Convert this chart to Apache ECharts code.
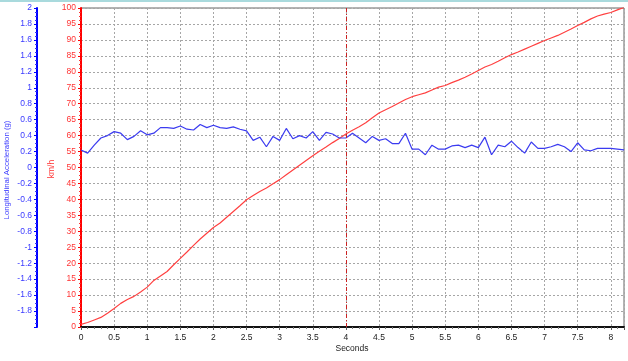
<!DOCTYPE html>
<html><head><meta charset="utf-8">
<script src="https://cdn.jsdelivr.net/npm/echarts@6/dist/echarts.min.js"></script>
<style>html,body{margin:0;padding:0;background:#fff}#c{width:628px;height:361px}</style>
</head><body><div id="c"></div>
<script>
const seconds = [0,0.1,0.2,0.3,0.4,0.5,0.6,0.7,0.8,0.9,1,1.1,1.2,1.3,1.4,1.5,1.6,1.7,1.8,1.9,2,2.1,2.2,2.3,2.4,2.5,2.6,2.7,2.8,2.9,3,3.1,3.2,3.3,3.4,3.5,3.6,3.7,3.8,3.9,4,4.1,4.2,4.3,4.4,4.5,4.6,4.7,4.8,4.9,5,5.1,5.2,5.3,5.4,5.5,5.6,5.7,5.8,5.9,6,6.1,6.2,6.3,6.4,6.5,6.6,6.7,6.8,6.9,7,7.1,7.2,7.3,7.4,7.5,7.6,7.7,7.8,7.9,8,8.1,8.2];
const speedKmh = [0.8,1.4,2.2,3.0,4.3,5.8,7.4,8.6,9.6,11.0,12.5,14.6,16.0,17.4,19.5,21.5,23.5,25.6,27.6,29.4,31.2,32.6,34.4,36.2,38.0,39.9,41.2,42.5,43.6,44.9,46.2,47.7,49.2,50.7,52.2,53.7,55.1,56.4,57.8,59.1,60.5,61.7,62.8,64.0,65.6,67.1,68.1,69.1,70.2,71.3,72.2,72.8,73.4,74.3,75.2,75.7,76.6,77.4,78.3,79.3,80.4,81.5,82.3,83.3,84.4,85.4,86.2,87.1,88.0,88.9,89.8,90.6,91.4,92.4,93.4,94.5,95.5,96.6,97.5,98.1,98.6,99.4,100.2];
const accelG = [0.22,0.18,0.28,0.37,0.40,0.45,0.43,0.35,0.39,0.46,0.41,0.43,0.50,0.50,0.49,0.52,0.48,0.47,0.54,0.50,0.53,0.50,0.49,0.51,0.48,0.46,0.34,0.38,0.26,0.39,0.34,0.49,0.36,0.40,0.37,0.45,0.34,0.44,0.42,0.37,0.37,0.43,0.37,0.31,0.39,0.34,0.36,0.30,0.30,0.43,0.23,0.23,0.16,0.28,0.23,0.23,0.27,0.28,0.25,0.28,0.25,0.38,0.16,0.28,0.26,0.33,0.25,0.18,0.32,0.24,0.24,0.26,0.29,0.26,0.20,0.31,0.22,0.21,0.24,0.24,0.24,0.23,0.22];
const markerSecond = 4;
const xTitle = 'Seconds';
const speedTitle = 'km/h';
const accelTitle = 'Longitudinal Acceleration (g)';

const font = 'Liberation Sans';
const chart = echarts.init(document.getElementById('c'), null, {renderer: 'canvas'});
const grid = {show: true, left: 81, right: 4, top: 8, bottom: 34, borderColor: '#666', borderWidth: 1,
  containLabel: false, outerBoundsMode: 'none'};
const splitDash = {show: true, lineStyle: {color: '#a6a6a6', type: [2, 2], width: 1}};
const titleStyle = (txt, color, size) => ({text: txt, fill: color, font: size + 'px "Liberation Sans"', align: 'center', verticalAlign: 'middle'});
chart.setOption({
  animation: false,
  backgroundColor: '#fff',
  graphic: [
    {type: 'rect', left: 0, top: 0, shape: {width: 628, height: 2}, style: {fill: '#a9dadd'}},
    {type: 'text', x: 352, y: 349, style: titleStyle(xTitle, '#222', 8.5)},
    {type: 'text', x: 52, y: 169, rotation: Math.PI / 2, style: titleStyle(speedTitle, '#ff3333', 8.5)},
    {type: 'text', x: 7, y: 170, rotation: Math.PI / 2, style: titleStyle(accelTitle, '#3a3aff', 7.8)}
  ],
  grid: grid,
  xAxis: {
    type: 'value', min: 0, max: 8.2, interval: 0.5,
    axisLine: {lineStyle: {color: '#111', width: 2}},
    axisTick: {show: true, length: 3, lineStyle: {color: '#555'}},
    minorTick: {show: true, splitNumber: 5, length: 2, lineStyle: {color: '#777'}},
    axisLabel: {color: '#222', fontSize: 8.5, fontFamily: font, margin: 6, showMaxLabel: false},
    splitLine: splitDash
  },
  yAxis: [{
    type: 'value', min: 0, max: 100, interval: 5, position: 'left',
    axisLine: {show: true, lineStyle: {color: '#ff0000', width: 2}},
    axisTick: {show: true, length: 3, lineStyle: {color: '#ff0000'}},
    minorTick: {show: true, splitNumber: 4, length: 2, lineStyle: {color: '#ff3333'}},
    axisLabel: {color: '#ff3333', fontSize: 8.5, fontFamily: font, margin: 5},
    splitLine: splitDash
  }, {
    type: 'value', min: -2, max: 2, interval: 0.2, position: 'left', offset: 44,
    axisLine: {show: true, lineStyle: {color: '#0000ff', width: 2}},
    axisTick: {show: true, length: 3, lineStyle: {color: '#0000ff'}},
    minorTick: {show: true, splitNumber: 4, length: 2, lineStyle: {color: '#3333ff'}},
    axisLabel: {color: '#3a3aff', fontSize: 8.5, fontFamily: font, margin: 5, showMinLabel: false,
      formatter: v => String(Math.round(v * 10) / 10)},
    splitLine: {show: false}
  }],
  series: [{
    type: 'line', yAxisIndex: 0, showSymbol: false, symbol: 'none',
    data: seconds.map((t, i) => [t, speedKmh[i]]),
    lineStyle: {color: '#ff4040', width: 1.2},
    markLine: {silent: true, symbol: 'none', label: {show: false},
      lineStyle: {color: '#cc2222', type: [4, 2, 1, 2], width: 1},
      data: [{xAxis: markerSecond}]}
  }, {
    type: 'line', yAxisIndex: 1, showSymbol: false, symbol: 'none',
    data: seconds.map((t, i) => [t, accelG[i]]),
    lineStyle: {color: '#3b3bf0', width: 1.2}
  }]
});
</script></body></html>
